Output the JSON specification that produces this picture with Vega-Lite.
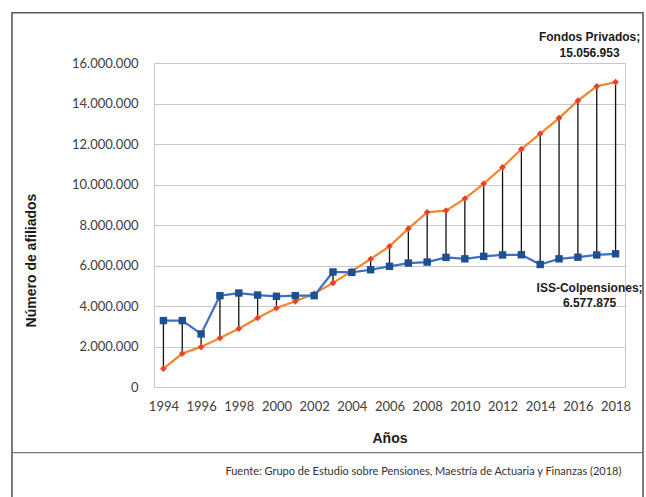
{
  "$schema": "https://vega.github.io/schema/vega-lite/v6.json",
  "width": 471,
  "height": 324,
  "autosize": {"type": "none"},
  "padding": {"left": 154, "top": 63, "right": 21, "bottom": 110},
  "background": "white",
  "config": {
    "locale": {"number": {"decimal": ",", "thousands": ".", "grouping": [3], "currency": ["$", ""]}},
    "view": {"stroke": "#c8c8c8", "strokeWidth": 1},
    "font": "Lato"
  },
  "resolve": {"axis": {"x": "independent", "y": "independent"}},
  "datasets": {
    "series": [
      {"year": 1994, "iss": 3280000, "fp": 910000},
      {"year": 1995, "iss": 3280000, "fp": 1650000},
      {"year": 1996, "iss": 2620000, "fp": 1980000},
      {"year": 1997, "iss": 4510000, "fp": 2420000},
      {"year": 1998, "iss": 4640000, "fp": 2880000},
      {"year": 1999, "iss": 4540000, "fp": 3410000},
      {"year": 2000, "iss": 4480000, "fp": 3900000},
      {"year": 2001, "iss": 4510000, "fp": 4230000},
      {"year": 2002, "iss": 4510000, "fp": 4610000},
      {"year": 2003, "iss": 5680000, "fp": 5140000},
      {"year": 2004, "iss": 5660000, "fp": 5720000},
      {"year": 2005, "iss": 5790000, "fp": 6320000},
      {"year": 2006, "iss": 5960000, "fp": 6950000},
      {"year": 2007, "iss": 6120000, "fp": 7820000},
      {"year": 2008, "iss": 6170000, "fp": 8630000},
      {"year": 2009, "iss": 6400000, "fp": 8710000},
      {"year": 2010, "iss": 6330000, "fp": 9300000},
      {"year": 2011, "iss": 6450000, "fp": 10040000},
      {"year": 2012, "iss": 6520000, "fp": 10850000},
      {"year": 2013, "iss": 6530000, "fp": 11750000},
      {"year": 2014, "iss": 6050000, "fp": 12510000},
      {"year": 2015, "iss": 6330000, "fp": 13280000},
      {"year": 2016, "iss": 6410000, "fp": 14140000},
      {"year": 2017, "iss": 6520000, "fp": 14850000},
      {"year": 2018, "iss": 6577875, "fp": 15056953}
    ],
    "note": [{"source": "Fuente: Grupo de Estudio sobre Pensiones, Maestría de Actuaria y Finanzas (2018)"}]
  },
  "layer": [
    {
      "data": {"name": "series"},
      "encoding": {
        "x": {
          "field": "year", "type": "quantitative",
          "scale": {"domain": [1993.5, 2018.5], "nice": false, "zero": false},
          "axis": {
            "title": "Años", "values": [1994,1996,1998,2000,2002,2004,2006,2008,2010,2012,2014,2016,2018],
            "format": "d", "grid": false, "ticks": false, "labelPadding": 13, "labelOverlap": false,
            "labelFont": "Lato", "labelFontSize": 13, "labelColor": "#404040",
            "domainColor": "#c8c8c8",
            "titleFont": "Liberation Sans", "titleFontSize": 14, "titleFontWeight": "bold", "titleColor": "#1a1a1a",
            "titleY": 51, "titleBaseline": "middle"
          }
        }
      },
      "layer": [
        {
          "mark": {"type": "rule", "color": "#111111", "strokeWidth": 1.3},
          "encoding": {
            "y": {
              "field": "iss", "type": "quantitative",
              "scale": {"domain": [0, 16000000], "nice": false},
              "axis": {
                "title": "Número de afiliados",
                "values": [0,2000000,4000000,6000000,8000000,10000000,12000000,14000000,16000000],
                "format": ",d", "grid": true, "gridColor": "#c8c8c8", "ticks": false, "labelOverlap": false,
                "labelPadding": 16, "labelFont": "Lato", "labelFontSize": 13, "labelColor": "#404040",
                "domainColor": "#c8c8c8",
                "titleFont": "Liberation Sans", "titleFontSize": 14, "titleFontWeight": "bold", "titleColor": "#1a1a1a",
                "titleX": -123, "titleY": 197, "titleBaseline": "middle", "titleAlign": "center", "titleAngle": -90
              }
            },
            "y2": {"field": "fp"}
          }
        },
        {
          "mark": {"type": "line", "color": "#f5852a", "strokeWidth": 2.2},
          "encoding": {"y": {"field": "fp", "type": "quantitative"}}
        },
        {
          "mark": {"type": "line", "color": "#3b6fc6", "strokeWidth": 2.2},
          "encoding": {"y": {"field": "iss", "type": "quantitative"}}
        },
        {
          "mark": {"type": "point", "shape": "diamond", "filled": true, "color": "#e8412c", "size": 45, "opacity": 1},
          "encoding": {"y": {"field": "fp", "type": "quantitative"}}
        },
        {
          "mark": {"type": "point", "shape": "square", "filled": true, "color": "#1f4f8f", "size": 55, "opacity": 1},
          "encoding": {"y": {"field": "iss", "type": "quantitative"}}
        },
        {
          "transform": [{"filter": "datum.year == 2018"}],
          "mark": {"type": "text", "text": ["Fondos Privados;", "15.056.953"], "font": "Liberation Sans", "fontWeight": "bold", "fontSize": 12, "lineHeight": 16, "align": "center", "baseline": "middle", "color": "#1a1a1a", "clip": false, "dx": -26, "dy": -45},
          "encoding": {"y": {"field": "fp", "type": "quantitative"}}
        },
        {
          "transform": [{"filter": "datum.year == 2018"}],
          "mark": {"type": "text", "text": ["ISS-Colpensiones;", "6.577.875"], "font": "Liberation Sans", "fontWeight": "bold", "fontSize": 12, "lineHeight": 15, "align": "center", "baseline": "middle", "color": "#1a1a1a", "clip": false, "dx": -26, "dy": 34},
          "encoding": {"y": {"field": "iss", "type": "quantitative"}}
        }
      ]
    },
    {
      "data": {"name": "note"},
      "mark": {"type": "rect", "filled": false, "stroke": "#5a5a5a", "strokeWidth": 1.6, "clip": false},
      "encoding": {
        "x": {"datum": 1985.96, "type": "quantitative", "axis": null},
        "x2": {"datum": 2019.455},
        "y": {"datum": 18484000, "type": "quantitative", "axis": null},
        "y2": {"datum": -5810000}
      }
    },
    {
      "data": {"name": "note"},
      "mark": {"type": "rule", "stroke": "#7a7a7a", "strokeWidth": 1.2, "clip": false},
      "encoding": {
        "x": {"datum": 1985.96, "type": "quantitative", "axis": null},
        "x2": {"datum": 2019.455},
        "y": {"datum": -3244000, "type": "quantitative", "axis": null}
      }
    },
    {
      "data": {"name": "note"},
      "mark": {"type": "text", "font": "Lato", "fontSize": 11, "align": "center", "baseline": "middle", "color": "#333333", "clip": false},
      "encoding": {
        "x": {"datum": 2007.8, "type": "quantitative", "axis": null},
        "y": {"datum": -4180000, "type": "quantitative", "axis": null},
        "text": {"field": "source"}
      }
    }
  ]
}
